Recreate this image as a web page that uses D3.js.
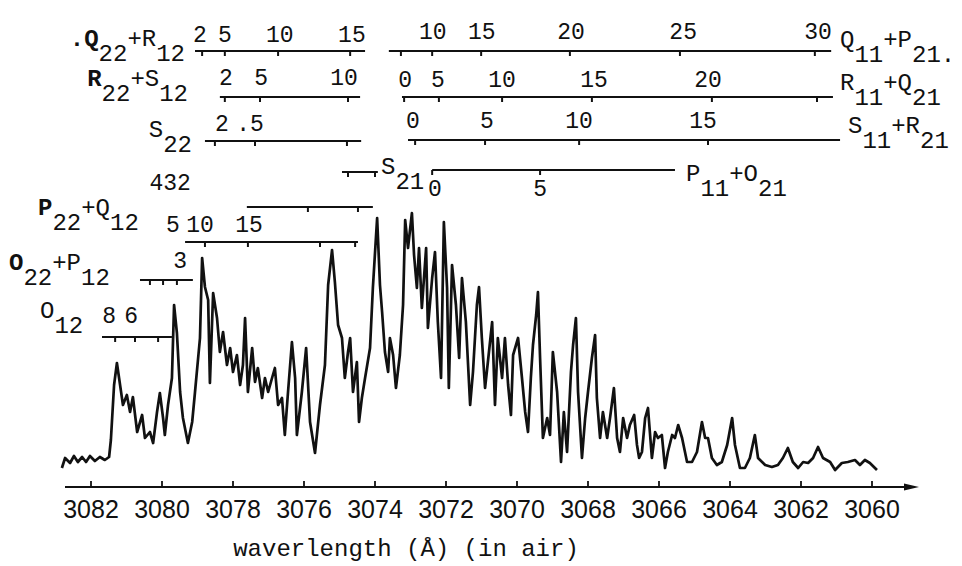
<!DOCTYPE html>
<html>
<head>
<meta charset="utf-8">
<script src="https://cdn.jsdelivr.net/npm/d3@7"></script>
<style>
  html, body { margin: 0; padding: 0; background: #fff; }
  svg { display: block; }
  .mono { font-family: "Liberation Mono", "DejaVu Sans Mono", monospace; fill: #111; }
  .axislab { font-family: "Liberation Sans", Arial, sans-serif; fill: #111; }
</style>
</head>
<body>
<div id="chart"></div>
<script>
// wavelength ticks (Angstrom, in air)
const waveTicks = [3082, 3080, 3078, 3076, 3074, 3072, 3070, 3068, 3066, 3064, 3062, 3060];

// emission trace: [wavelength, relative intensity]
const spectrum = [
  [3082.82, 2], [3082.73, 12], [3082.59, 7], [3082.48, 14], [3082.37, 8], [3082.25, 13],
  [3082.14, 8], [3082.03, 14], [3081.89, 9], [3081.75, 13], [3081.61, 10], [3081.49, 13],
  [3081.44, 30], [3081.35, 85], [3081.27, 107], [3081.10, 65], [3080.99, 75], [3080.90, 58],
  [3080.82, 73], [3080.70, 38], [3080.56, 55], [3080.48, 32], [3080.34, 38], [3080.25, 27],
  [3080.14, 58], [3080.06, 77], [3079.97, 52], [3079.92, 35], [3079.83, 65], [3079.72, 92],
  [3079.66, 165], [3079.58, 137], [3079.49, 78], [3079.41, 52], [3079.27, 27], [3079.15, 48],
  [3079.07, 78], [3078.93, 132], [3078.87, 212], [3078.79, 183], [3078.70, 170], [3078.65, 87],
  [3078.56, 177], [3078.45, 152], [3078.37, 118], [3078.28, 138], [3078.17, 105], [3078.08, 122],
  [3078.00, 98], [3077.89, 115], [3077.80, 85], [3077.72, 105], [3077.66, 152], [3077.58, 78],
  [3077.46, 122], [3077.38, 88], [3077.30, 102], [3077.18, 72], [3077.10, 92], [3077.01, 78],
  [3076.90, 92], [3076.82, 102], [3076.73, 65], [3076.62, 72], [3076.54, 35], [3076.45, 78],
  [3076.34, 128], [3076.25, 92], [3076.20, 35], [3076.06, 78], [3075.94, 122], [3075.83, 48],
  [3075.69, 17], [3075.55, 65], [3075.41, 105], [3075.32, 185], [3075.21, 220], [3075.13, 188],
  [3075.04, 145], [3074.93, 132], [3074.85, 92], [3074.76, 118], [3074.70, 132], [3074.62, 78],
  [3074.51, 108], [3074.45, 48], [3074.37, 72], [3074.28, 92], [3074.14, 122], [3074.06, 182],
  [3073.94, 252], [3073.86, 185], [3073.80, 158], [3073.72, 118], [3073.63, 98], [3073.58, 132],
  [3073.49, 115], [3073.41, 82], [3073.30, 115], [3073.21, 165], [3073.15, 250], [3073.07, 222],
  [3072.96, 257], [3072.90, 215], [3072.82, 182], [3072.76, 222], [3072.68, 162], [3072.56, 222],
  [3072.51, 142], [3072.39, 192], [3072.31, 218], [3072.23, 148], [3072.14, 92], [3072.06, 248],
  [3071.97, 182], [3071.92, 82], [3071.83, 205], [3071.72, 165], [3071.63, 112], [3071.55, 192],
  [3071.44, 148], [3071.32, 65], [3071.24, 98], [3071.13, 165], [3071.07, 183], [3070.99, 132],
  [3070.90, 82], [3070.82, 108], [3070.70, 148], [3070.62, 65], [3070.54, 132], [3070.42, 92],
  [3070.34, 132], [3070.25, 85], [3070.17, 55], [3070.11, 115], [3069.97, 132], [3069.86, 92],
  [3069.77, 58], [3069.69, 38], [3069.61, 92], [3069.55, 125], [3069.46, 155], [3069.41, 178],
  [3069.35, 112], [3069.27, 32], [3069.15, 52], [3069.07, 35], [3068.99, 118], [3068.87, 78],
  [3068.76, 8], [3068.68, 58], [3068.59, 18], [3068.48, 98], [3068.42, 125], [3068.34, 152],
  [3068.28, 78], [3068.17, 12], [3068.08, 52], [3068.00, 78], [3067.89, 112], [3067.80, 135],
  [3067.75, 72], [3067.66, 32], [3067.58, 58], [3067.46, 32], [3067.38, 52], [3067.27, 82],
  [3067.18, 32], [3067.10, 18], [3067.01, 52], [3066.90, 32], [3066.82, 45], [3066.70, 55],
  [3066.62, 25], [3066.56, 12], [3066.48, 18], [3066.39, 52], [3066.31, 62], [3066.20, 12],
  [3066.11, 38], [3066.03, 32], [3065.92, 35], [3065.83, 2], [3065.75, 18], [3065.63, 35],
  [3065.55, 32], [3065.46, 45], [3065.35, 32], [3065.21, 8], [3065.07, 8], [3064.93, 18],
  [3064.79, 48], [3064.70, 32], [3064.62, 32], [3064.51, 12], [3064.37, 5], [3064.23, 8],
  [3064.08, 25], [3063.94, 52], [3063.86, 25], [3063.72, 2], [3063.58, 2], [3063.44, 12],
  [3063.30, 35], [3063.21, 12], [3063.01, 5], [3062.82, 3], [3062.65, 5], [3062.51, 12],
  [3062.37, 22], [3062.23, 8], [3062.08, 2], [3061.94, 8], [3061.80, 7], [3061.66, 12],
  [3061.52, 23], [3061.38, 12], [3061.18, 8], [3061.04, 0], [3060.85, 7], [3060.68, 8],
  [3060.48, 10], [3060.34, 5], [3060.20, 10], [3060.06, 7], [3059.86, 0]
];

// rotational branch bars: span and line positions (Angstrom)
const bars = [
  { id: "q22",   span: [3079.07, 3074.28], ticks: [3078.87, 3078.23, 3076.73, 3074.70] },
  { id: "q11",   span: [3073.61, 3061.15], ticks: [3073.27, 3072.39, 3071.01, 3068.51, 3065.41, 3061.61] },
  { id: "r22",   span: [3078.37, 3074.42], ticks: [3078.23, 3077.24, 3074.76] },
  { id: "r11",   span: [3073.24, 3061.10], ticks: [3073.18, 3072.20, 3070.42, 3067.89, 3064.51, 3061.55] },
  { id: "s22",   span: [3078.79, 3074.39], ticks: [3078.51, 3077.38, 3074.79] },
  { id: "s11",   span: [3073.07, 3060.90], ticks: [3072.87, 3070.90, 3068.25, 3064.62] },
  { id: "s21",   span: [3074.93, 3073.92], ticks: [3074.76, 3074.00] },
  { id: "p11",   span: [3072.39, 3065.55], ticks: [3072.39, 3069.35] },
  { id: "p22up", span: [3077.61, 3074.06], ticks: [3075.89, 3074.48] },
  { id: "p22",   span: [3079.35, 3074.48], ticks: [3078.79, 3077.58, 3075.55, 3074.56] },
  { id: "o22",   span: [3080.62, 3079.13], ticks: [3080.34, 3079.97, 3079.58] },
  { id: "o12",   span: [3081.69, 3079.72], ticks: [3081.32, 3080.76, 3080.11] }
];

// J numbers written over the bars
const barNumbers = [
  { id: "q22", wl: 3078.93, text: "2" }, { id: "q22", wl: 3078.23, text: "5" },
  { id: "q22", wl: 3076.68, text: "10" }, { id: "q22", wl: 3074.65, text: "15" },
  { id: "q11", wl: 3072.37, text: "10" }, { id: "q11", wl: 3070.99, text: "15" },
  { id: "q11", wl: 3068.48, text: "20" }, { id: "q11", wl: 3065.32, text: "25" },
  { id: "q11", wl: 3061.52, text: "30" },
  { id: "r22", wl: 3078.20, text: "2" }, { id: "r22", wl: 3077.21, text: "5" },
  { id: "r22", wl: 3074.87, text: "10" },
  { id: "r11", wl: 3073.15, text: "0" }, { id: "r11", wl: 3072.23, text: "5" },
  { id: "r11", wl: 3070.42, text: "10" }, { id: "r11", wl: 3067.83, text: "15" },
  { id: "r11", wl: 3064.62, text: "20" },
  { id: "s22", wl: 3078.31, text: "2" }, { id: "s22", wl: 3077.52, text: ".5" },
  { id: "s11", wl: 3072.93, text: "0" }, { id: "s11", wl: 3070.85, text: "5" },
  { id: "s11", wl: 3068.25, text: "10" }, { id: "s11", wl: 3064.76, text: "15" },
  { id: "s21", wl: 3079.77, text: "432" },
  { id: "p11", wl: 3072.31, text: "0" }, { id: "p11", wl: 3069.35, text: "5" },
  { id: "p22", wl: 3079.69, text: "5" }, { id: "p22", wl: 3078.93, text: "10" },
  { id: "p22", wl: 3077.55, text: "15" },
  { id: "o22", wl: 3079.49, text: "3" },
  { id: "o12", wl: 3081.49, text: "8" }, { id: "o12", wl: 3080.87, text: "6" }
];

// branch names: [main, subscript, bold] triples
const branchNames = [
  { key: "q22", parts: [[".Q", "22", true], ["+R", "12"]] },
  { key: "r22", parts: [["R", "22", true], ["+S", "12"]] },
  { key: "s22", parts: [["S", "22"]] },
  { key: "q11", parts: [["Q", "11"], ["+P", "21."]] },
  { key: "r11", parts: [["R", "11"], ["+Q", "21"]] },
  { key: "s11", parts: [["S", "11"], ["+R", "21"]] },
  { key: "s21", parts: [["S", "21"]] },
  { key: "p11", parts: [["P", "11"], ["+O", "21"]] },
  { key: "p22", parts: [["P", "22", true], ["+Q", "12"]] },
  { key: "o22", parts: [["O", "22", true], ["+P", "12"]] },
  { key: "o12", parts: [["O", "12"]] }
];

// layout
const width = 962, height = 566;
const rowY = {
  q22: { y: 51, num: 42 }, q11: { y: 51, num: 39 },
  r22: { y: 97, num: 85 }, r11: { y: 97, num: 87 },
  s22: { y: 141, num: 131 }, s11: { y: 140, num: 128 },
  s21: { y: 172, num: 190 }, p11: { y: 170, num: 196 },
  p22up: { y: 207 }, p22: { y: 242, num: 232 },
  o22: { y: 280, num: 268 }, o12: { y: 337, num: 323 }
};
const namePos = {
  q22: { x: 185, y: 46, anchor: "end" }, r22: { x: 188, y: 86, anchor: "end" },
  s22: { x: 192, y: 137, anchor: "end" },
  q11: { x: 840, y: 47, anchor: "start" }, r11: { x: 840, y: 90, anchor: "start" },
  s11: { x: 848, y: 133, anchor: "start" }, s21: { x: 381, y: 174, anchor: "start" },
  p11: { x: 686, y: 181, anchor: "start" }, p22: { x: 38, y: 215, anchor: "start" },
  o22: { x: 9, y: 270, anchor: "start" }, o12: { x: 40, y: 318, anchor: "start" }
};

const svg = d3.select("#chart").append("svg")
  .attr("width", width)
  .attr("height", height);

const x = d3.scaleLinear().domain([3082, 3060]).range([91, 872]);
const y = d3.scaleLinear().domain([0, 260]).range([470, 210]);

// spectrum trace
const line = d3.line().x(d => x(d[0])).y(d => y(d[1]));
svg.append("path")
  .datum(spectrum)
  .attr("fill", "none")
  .attr("stroke", "#111")
  .attr("stroke-width", 2.7)
  .attr("stroke-linejoin", "round")
  .attr("d", line);

// wavelength axis
const axisY = 487;
svg.append("line")
  .attr("x1", 65).attr("x2", 910)
  .attr("y1", axisY).attr("y2", axisY)
  .attr("stroke", "#111").attr("stroke-width", 2.2);
svg.append("path")
  .attr("d", `M904,${axisY - 3.5}L919,${axisY}L904,${axisY + 3.5}Z`)
  .attr("fill", "#111");

svg.append("g").selectAll("line")
  .data(waveTicks)
  .join("line")
  .attr("x1", d => x(d)).attr("x2", d => x(d))
  .attr("y1", axisY).attr("y2", axisY - 6)
  .attr("stroke", "#111").attr("stroke-width", 1.8);

svg.append("g").selectAll("text")
  .data(waveTicks)
  .join("text")
  .attr("class", "axislab")
  .attr("x", d => x(d))
  .attr("y", 518)
  .attr("text-anchor", "middle")
  .attr("font-size", 25)
  .text(d => d);

svg.append("text")
  .attr("class", "mono")
  .attr("x", 406)
  .attr("y", 556)
  .attr("text-anchor", "middle")
  .attr("font-size", 24)
  .text("waverlength (Å) (in air)");

// branch bars
const barG = svg.append("g");
bars.forEach(b => {
  const ry = rowY[b.id].y;
  barG.append("line")
    .attr("x1", x(b.span[0])).attr("x2", x(b.span[1]))
    .attr("y1", ry).attr("y2", ry)
    .attr("stroke", "#111").attr("stroke-width", 2.2);
  barG.selectAll(null)
    .data(b.ticks)
    .join("line")
    .attr("x1", d => x(d)).attr("x2", d => x(d))
    .attr("y1", ry).attr("y2", ry + 5)
    .attr("stroke", "#111").attr("stroke-width", 2);
});

svg.append("g").selectAll("text")
  .data(barNumbers)
  .join("text")
  .attr("class", "mono")
  .attr("x", d => x(d.wl))
  .attr("y", d => rowY[d.id].num)
  .attr("text-anchor", "middle")
  .attr("font-size", 23)
  .text(d => d.text);

// branch names with subscripts
branchNames.forEach(n => {
  const p = namePos[n.key];
  const t = svg.append("text")
    .attr("class", "mono")
    .attr("x", p.x).attr("y", p.y)
    .attr("text-anchor", p.anchor)
    .attr("font-size", 24);
  n.parts.forEach(([main, sub, bold], i) => {
    t.append("tspan")
      .attr("dy", i === 0 ? 0 : -15)
      .attr("font-weight", bold ? "bold" : null)
      .text(main);
    t.append("tspan")
      .attr("dy", 15)
      .text(sub);
  });
});
</script>
</body>
</html>
